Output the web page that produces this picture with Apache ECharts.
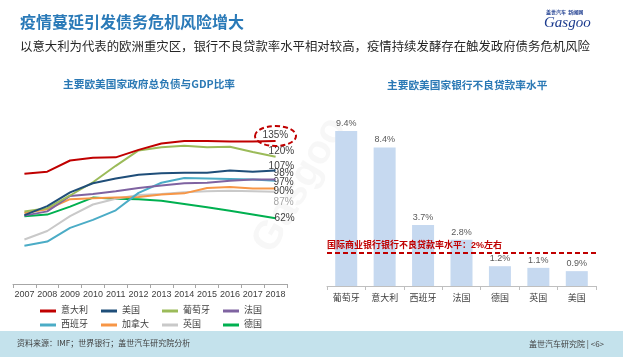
<!DOCTYPE html>
<html><head><meta charset="utf-8">
<script src="https://cdn.jsdelivr.net/npm/echarts@6/dist/echarts.min.js"></script>
<style>html,body{margin:0;padding:0;background:#fff}#c{width:623px;height:357px}</style>
</head><body><div id="c"></div>
<script>
// ---- Data ----
const years = ['2007','2008','2009','2010','2011','2012','2013','2014','2015','2016','2017','2018'];
const italy    = [104, 106, 116.5, 119, 119.5, 126.5, 132.5, 135, 135, 134.5, 134.5, 135];
const usa      = [65, 73.5, 86.5, 95, 99.5, 103, 104.5, 105, 105, 107, 106, 107];
const portugal = [68.5, 71.5, 83.5, 96, 111.5, 126, 129, 130.5, 129, 129.5, 124.5, 120];
const france   = [64.5, 68.5, 83, 85, 87.5, 90.5, 93, 95, 95.5, 97.5, 98.5, 98.5];
const spain    = [36, 40, 53, 60.5, 69.5, 86, 95.5, 100, 99.5, 99, 98.5, 97.5];
const canada   = [67, 70.5, 80, 81, 81.5, 82, 84.5, 85.5, 90.5, 91.5, 90, 90];
const uk       = [42, 50, 64, 75, 80.5, 84, 85, 86.5, 87.5, 88, 87.5, 87];
const germany  = [64, 65.5, 73, 81.5, 80.5, 80, 78.5, 75.5, 72.5, 69, 65.5, 62];
const endLabels = ['135%','107%','120%','98%','97%','90%','87%','62%'];
const seriesNames = ['意大利','美国','葡萄牙','法国','西班牙','加拿大','英国','德国'];

const nplCountries = ['葡萄牙','意大利','西班牙','法国','德国','英国','美国'];
const nplRates = [9.4, 8.4, 3.7, 2.8, 1.2, 1.1, 0.9];
const nplBenchmark = 2;
const nplBenchmarkText = '国际商业银行银行不良贷款率水平：2%左右';

// ---- Styles ----
const FONT = 'Liberation Sans, Noto Sans CJK SC, sans-serif';
const colors = ['#c00000','#1f4e79','#9bbb59','#7f63a1','#4bacc6','#f79646','#c9c9c9','#00b050'];
const labelOffsets = [[-13,-5.5],[-7,-4],[-7,-6],[-2,-6],[-2,2],[-2,3],[-2,10],[-1,0]];
const labelColors = ['#404040','#404040','#404040','#404040','#404040','#404040','#a6a6a6','#404040'];
const lineData = [italy, usa, portugal, france, spain, canada, uk, germany];

const lineSeries = lineData.map((d, i) => ({
  name: seriesNames[i], type: 'line', xAxisIndex: 0, yAxisIndex: 0,
  data: d, showSymbol: false, symbol: 'none', smooth: false,
  lineStyle: { color: colors[i], width: 2 }, itemStyle: { color: colors[i] },
  z: 10 - i,
  endLabel: { show: true, formatter: endLabels[i], distance: 0, offset: labelOffsets[i],
    color: labelColors[i], fontSize: 10, fontFamily: FONT },
  animation: false
}));

const chart = echarts.init(document.getElementById('c'), null, { renderer: 'canvas' });
chart.setOption({
  backgroundColor: '#ffffff',
  animation: false,
  grid: [
    { left: 13, right: 336, top: 125, bottom: 73 },
    { left: 327, right: 27, top: 121, bottom: 71 }
  ],
  xAxis: [
    { type: 'category', gridIndex: 0, data: years, boundaryGap: true,
      axisLine: { lineStyle: { color: '#a6a6a6' } },
      axisTick: { show: true, length: 4, lineStyle: { color: '#a6a6a6' } },
      axisLabel: { color: '#404040', fontSize: 9, margin: 6, fontFamily: FONT, interval: 0 } },
    { type: 'category', gridIndex: 1, data: nplCountries,
      axisLine: { lineStyle: { color: '#bfbfbf' } },
      axisTick: { show: true, length: 4, lineStyle: { color: '#bfbfbf' } },
      axisLabel: { color: '#404040', fontSize: 9, margin: 8, fontFamily: FONT, interval: 0 } }
  ],
  yAxis: [
    { type: 'value', gridIndex: 0, min: 0, max: 150, show: false, splitLine: { show: false } },
    { type: 'value', gridIndex: 1, min: 0, max: 10, show: false, splitLine: { show: false } }
  ],
  legend: {
    data: seriesNames, left: 35, top: 299, width: 250, itemGap: 0,
    itemWidth: 16, itemHeight: 3, icon: 'rect',
    textStyle: { fontSize: 9, color: '#404040', width: 40, lineHeight: 14, fontFamily: FONT }
  },
  series: lineSeries.concat([{
    name: 'NPL', type: 'bar', xAxisIndex: 1, yAxisIndex: 1, data: nplRates,
    barWidth: 22, itemStyle: { color: '#c6d9f0' },
    label: { show: true, position: 'top', distance: 3, formatter: p => p.value.toFixed(1) + '%',
      color: '#595959', fontSize: 9, fontFamily: FONT },
    markLine: {
      silent: true, symbol: 'none',
      data: [{ yAxis: nplBenchmark }],
      lineStyle: { color: '#c00000', type: [5, 3], width: 2 },
      label: { show: true, position: 'insideStartTop', formatter: nplBenchmarkText,
        color: '#c00000', fontSize: 9, fontWeight: 'bold', distance: [0, 3], fontFamily: FONT }
    }
  }]),
  graphic: [
    { type: 'text', left: 20, top: 14, style: { text: '疫情蔓延引发债务危机风险增大', fill: '#2a7ab8',
      font: 'bold 16px "Noto Sans CJK SC", sans-serif' } },
    { type: 'text', left: 20, top: 40, style: { text: '以意大利为代表的欧洲重灾区，银行不良贷款率水平相对较高，疫情持续发酵存在触发政府债务危机风险',
      fill: '#262626', font: '12.4px "Noto Sans CJK SC", sans-serif' } },
    { type: 'text', left: 63, top: 79, style: { text: '主要欧美国家政府总负债与GDP比率', fill: '#2b79b5',
      font: 'bold 10.7px "Noto Sans CJK SC", sans-serif' } },
    { type: 'text', left: 387, top: 80, style: { text: '主要欧美国家银行不良贷款率水平', fill: '#2b79b5',
      font: 'bold 10.7px "Noto Sans CJK SC", sans-serif' } },
    { type: 'ellipse', shape: { cx: 275.5, cy: 136, rx: 20.5, ry: 10 },
      style: { fill: 'none', stroke: '#c00000', lineWidth: 2, lineDash: [5, 3] }, z: 20 },
    { type: 'rect', shape: { x: 0, y: 331, width: 623, height: 26 }, style: { fill: '#c4e2ec' }, z: -1 },
    { type: 'text', left: 17, top: 339, style: { text: '资料来源：IMF；世界银行；盖世汽车研究院分析', fill: '#404040',
      font: '8px "Noto Sans CJK SC", sans-serif' } },
    { type: 'text', left: 529, top: 340, style: { text: '盖世汽车研究院 | <6>', fill: '#404040',
      font: '8px "Noto Sans CJK SC", sans-serif' } },
    { type: 'text', left: 546, top: 10, style: { text: '盖世汽车  新闻网', fill: '#1d3c8f',
      font: 'bold 5px "Noto Sans CJK SC", sans-serif' } },
    { type: 'text', left: 544, top: 16, style: { text: 'Gasgoo', fill: '#1d3c8f',
      font: 'italic 15px "Liberation Serif", serif' } },
    { type: 'text', x: 300, y: 185, rotation: Math.PI / 3, style: { text: 'Gasgoo', fill: 'rgba(180,180,180,0.1)',
      font: 'bold 40px "Liberation Sans", sans-serif', align: 'center', verticalAlign: 'middle' }, z: -1 }
  ]
});
</script></body></html>
